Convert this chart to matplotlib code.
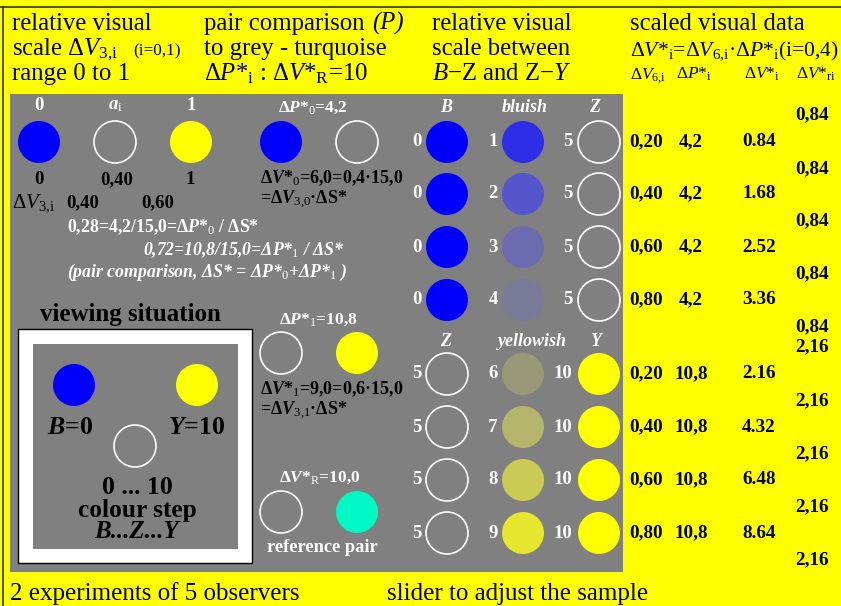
import matplotlib
matplotlib.use('Agg')
import matplotlib.pyplot as plt
from matplotlib.patches import Circle, Rectangle

plt.rcParams['font.family'] = ['Liberation Serif', 'DejaVu Serif']
plt.rcParams['mathtext.fontset'] = 'custom'
plt.rcParams['mathtext.rm'] = 'Liberation Serif'
plt.rcParams['mathtext.it'] = 'Liberation Serif:italic'
plt.rcParams['mathtext.bf'] = 'Liberation Serif:bold'
try:
    plt.rcParams['mathtext.bfit'] = 'Liberation Serif:italic:bold'
except KeyError:
    pass

# ── DATA ──────────────────────────────────────────
bluish_steps     = [1, 2, 3, 4]
bluish_colors    = ['#2e2ee6', '#5555cc', '#6b6bb0', '#7a7a99']
yellowish_steps  = [6, 7, 8, 9]
yellowish_colors = ['#999977', '#b5b56b', '#cccc55', '#e6e62e']

dv6        = [0.20, 0.40, 0.60, 0.80]
dp_blue    = [4.2, 4.2, 4.2, 4.2]
dp_yellow  = [10.8, 10.8, 10.8, 10.8]
dvs_blue   = [0.84, 1.68, 2.52, 3.36]
dvs_yellow = [2.16, 4.32, 6.48, 8.64]
dvr_blue   = [0.84, 0.84, 0.84, 0.84, 0.84]
dvr_yellow = [2.16, 2.16, 2.16, 2.16, 2.16]

YELLOW = '#ffff00'
BLUE   = '#0000ff'
GREY   = '#808080'
TURQ   = '#00f8c4'
W, K   = 'white', 'black'


def comma(v, nd):
    return f"{v:.{nd}f}".replace('.', ',')


fig = plt.figure(figsize=(8.41, 6.06), dpi=100, facecolor=YELLOW)
ax = fig.add_axes([0, 0, 1, 1])
ax.set_xlim(0, 841); ax.set_ylim(606, 0)
ax.axis('off')


def t(x, y, s, size=13.5, color=K, weight='bold', style='normal', ha='center', va='center'):
    ax.text(x, y, s, fontsize=size, color=color, fontweight=weight, fontstyle=style,
            ha=ha, va=va)


def disc(x, y, color=None, r=21):
    if color is None:
        ax.add_patch(Circle((x, y), r, facecolor=GREY, edgecolor='white', lw=1.2))
    else:
        ax.add_patch(Circle((x, y), r, facecolor=color, edgecolor='none'))


# frame lines
ax.plot([0, 841], [7, 7], color='#333300', lw=1.2)
ax.plot([3, 3], [7, 606], color='#333300', lw=1.2)

# header
HS = 17.8
t(12, 30, 'relative visual', HS, weight='normal', ha='left', va='baseline')
t(12, 55, r'scale Δ$V_{3{,}\mathrm{i}}$', HS, weight='normal', ha='left', va='baseline')
t(133, 55, '(i=0,1)', 12.3, weight='normal', ha='left', va='baseline')
t(12, 80, 'range 0 to 1', HS, weight='normal', ha='left', va='baseline')

t(204, 30, 'pair comparison', HS, weight='normal', ha='left', va='baseline')
t(372, 30, '(P)', HS, weight='normal', style='italic', ha='left', va='baseline')
t(204, 55, 'to grey - turquoise', HS, weight='normal', ha='left', va='baseline')
t(204, 80, r'Δ$P$*$_\mathrm{i}$ : Δ$V$*$_\mathrm{R}$=10', HS, weight='normal', ha='left', va='baseline')

t(432, 30, 'relative visual', HS, weight='normal', ha='left', va='baseline')
t(432, 55, 'scale between', HS, weight='normal', ha='left', va='baseline')
t(432, 80, r'$B$−Z and Z−$Y$', HS, weight='normal', ha='left', va='baseline')

t(630, 30, 'scaled visual data', HS, weight='normal', ha='left', va='baseline')
t(630, 55, r'Δ$V$*$_\mathrm{i}$=Δ$V_{6{,}\mathrm{i}}$·Δ$P$*$_\mathrm{i}$(i=0,4)', 15.6,
  weight='normal', ha='left', va='baseline')
t(630, 79, r'Δ$V_{6{,}\mathrm{i}}$', 12.5, weight='normal', ha='left', va='baseline')
t(676, 79, r'Δ$P$*$_\mathrm{i}$', 12.5, weight='normal', ha='left', va='baseline')
t(744, 79, r'Δ$V$*$_\mathrm{i}$', 12.5, weight='normal', ha='left', va='baseline')
t(796, 79, r'Δ$V$*$_\mathrm{ri}$', 12.5, weight='normal', ha='left', va='baseline')

# grey panel
ax.add_patch(Rectangle((10, 94), 613, 478, facecolor=GREY, edgecolor='none'))

# top left: scale 0..1
t(39, 105, '0', 13.5, W)
t(115, 105, r'$\mathbfit{a}_\mathrm{i}$', 13.5, W)
t(191, 105, '1', 13.5, W)
disc(39, 142, BLUE); disc(115, 142); disc(191, 142, YELLOW)
t(39, 180, '0', 13.5); t(117, 180, '0,40', 13.5); t(190, 180, '1', 13.5)
t(12, 203, r'Δ$V_{3{,}\mathrm{i}}$', 15, weight='normal', ha='left')
t(83, 203, '0,40', 13.5); t(158, 203, '0,60', 13.5)
t(67, 227, r'0,28=4,2/15,0=Δ$\mathbfit{P}$*$_\mathrm{0}$ / ΔS*', 12.8, W, ha='left')
t(143, 250, r'0,72=10,8/15,0=Δ$\mathbfit{P}$*$_\mathrm{1}$ / ΔS*', 12.8, W, style='italic', ha='left')
t(67, 272, r'(pair comparison, ΔS* = Δ$\mathbfit{P}$*$_\mathrm{0}$+Δ$\mathbfit{P}$*$_\mathrm{1}$ )',
  12.8, W, style='italic', ha='left')

# pair 0
t(313, 108, r'Δ$\mathbfit{P}$*$_\mathrm{0}$=4,2', 12.5, W)
disc(281, 142, BLUE); disc(357, 142)
t(260, 178, r'Δ$\mathbfit{V}$*$_\mathrm{0}$=6,0=0,4·15,0', 13, ha='left')
t(260, 200, r'=Δ$\mathbfit{V}_\mathrm{3{,}0}$·ΔS*', 13, ha='left')

# pair 1
t(318, 320, r'Δ$\mathbfit{P}$*$_\mathrm{1}$=10,8', 12.5, W)
disc(281, 353); disc(357, 353, YELLOW)
t(260, 389, r'Δ$\mathbfit{V}$*$_\mathrm{1}$=9,0=0,6·15,0', 13, ha='left')
t(260, 411, r'=Δ$\mathbfit{V}_\mathrm{3{,}1}$·ΔS*', 13, ha='left')

# reference pair
t(320, 478, r'Δ$\mathbfit{V}$*$_\mathrm{R}$=10,0', 12.5, W)
disc(281, 512); disc(357, 512, TURQ)
t(322, 547, 'reference pair', 13.2, W)

# viewing situation
t(130, 314, 'viewing situation', 18)
ax.add_patch(Rectangle((18, 329), 234, 234, facecolor='white', edgecolor=K, lw=1))
ax.add_patch(Rectangle((33, 344), 205, 205, facecolor=GREY, edgecolor='none'))
disc(74, 385, BLUE); disc(197, 385, YELLOW); disc(135, 446)
t(70, 427, r'$\mathbfit{B}$=0', 18.5)
t(197, 427, r'$\mathbfit{Y}$=10', 18.5)
t(137, 487, '0 ... 10', 18.5)
t(137, 510, 'colour step', 18.3)
t(137, 532, 'B...Z...Y', 18, style='italic')

# middle column: B - Z
t(446, 108, 'B', 13, W, style='italic')
t(525, 108, 'bluish', 13, W, style='italic')
t(595, 108, 'Z', 13, W, style='italic')
rows_b = [142, 194, 247, 300]
for y, s, c in zip(rows_b, bluish_steps, bluish_colors):
    t(417, y, '0', 13.5, W); disc(447, y, BLUE)
    t(493, y, str(s), 13.5, W); disc(523, y, c)
    t(568, y, '5', 13.5, W); disc(599, y)

# middle column: Z - Y
t(446, 341, 'Z', 13, W, style='italic')
t(532, 341, 'yellowish', 13, W, style='italic')
t(596, 341, 'Y', 13, W, style='italic')
rows_y = [374, 427, 480, 533]
for y, s, c in zip(rows_y, yellowish_steps, yellowish_colors):
    t(417, y, '5', 13.5, W); disc(447, y)
    t(493, y, str(s), 13.5, W); disc(523, y, c)
    t(563, y, '10', 13.5, W); disc(599, y, YELLOW)

# right table
for rows, dp, dvs, dvr in [(rows_b, dp_blue, dvs_blue, dvr_blue),
                           (rows_y, dp_yellow, dvs_yellow, dvr_yellow)]:
    for y, a, p, s in zip(rows, dv6, dp, dvs):
        t(646, y, comma(a, 2), 13.8)
        t(691, y, comma(p, 1), 13.8)
        t(759, y, f"{s:.2f}", 13.8)
    ys = [rows[0] - 27] + [y + 27 for y in rows]
    for y, r in zip(ys, dvr):
        t(812, y, comma(r, 2), 13.8)

# footer
t(10, 600, '2 experiments of 5 observers', 18, weight='normal', ha='left', va='baseline')
t(387, 600, 'slider to adjust the sample', 18, weight='normal', ha='left', va='baseline')

fig.savefig('out.png', dpi=100, facecolor=YELLOW)
